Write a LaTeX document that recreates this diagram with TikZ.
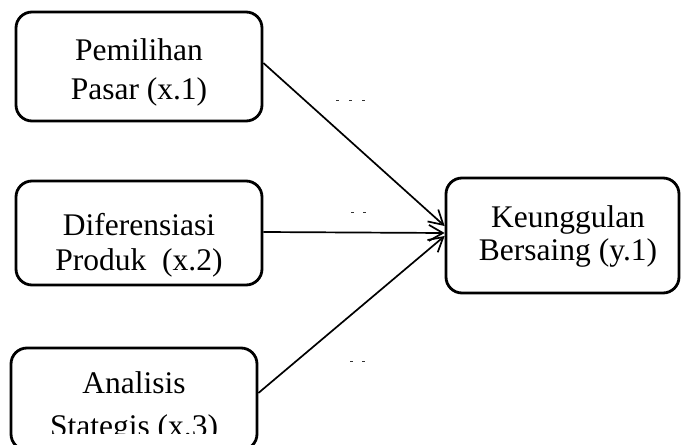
\documentclass[tikz,border=0pt]{standalone}
\usepackage{fontspec}
\setmainfont{Liberation Serif}
\usetikzlibrary{arrows.meta}
\begin{document}
\begin{tikzpicture}[x=1pt,y=-1pt,
  box/.style={draw, line width=2.8pt, rounded corners=16pt, inner sep=0pt},
  txt/.style={font=\fontsize{31.5}{37}\selectfont, inner sep=0pt, anchor=base},
  conn/.style={line width=1.7pt, -{Straight Barb[length=14pt,width=16pt,line width=1.7pt]}},
  tick/.style={line width=1pt, black!80}]
\useasboundingbox (0,0) rectangle (681,445);
\begin{scope}
\clip (0,0) rectangle (681,445);
\node[box, minimum width=246pt, minimum height=109pt] (b1) at (139,66.5) {};
\node[box, minimum width=246pt, minimum height=104pt] (b2) at (139,233) {};
\node[box, minimum width=246pt, minimum height=102pt] (b3) at (134,399) {};
\node[box, minimum width=233pt, minimum height=115pt] (b4) at (562.5,235.5) {};

\node[txt] (t1a) at (139,60) {Pemilihan};
\node[txt] (t1b) at (139,99) {Pasar (x.1)};
\node[txt] (t2a) at (139,235) {Diferensiasi};
\node[txt] (t2b) at (139,270) {Produk\ \ (x.2)};
\node[txt] (t3a) at (134,393) {Analisis};
\node[txt] (t4a) at (568,227) {Keunggulan};
\node[txt] (t4b) at (568,260) {Bersaing (y.1)};
\end{scope}
\begin{scope}
\clip (0,0) rectangle (681,433);
\node[txt] (t3b) at (134,436) {Stategis (x.3)};
\end{scope}

\draw[conn] ([yshift=3.5pt]b1.east) -- ([yshift=9.5pt]b4.west);
\draw[conn] ([yshift=1pt]b2.east) -- ([yshift=2.5pt]b4.west);
\draw[conn] ([yshift=6pt]b3.east) -- ([yshift=-0.5pt]b4.west);

\draw[tick] (336,100) -- (338.5,100);
\draw[tick] (349,100) -- (351.5,100);
\draw[tick] (362,100) -- (364.5,100);
\draw[tick] (351,212) -- (353.5,212);
\draw[tick] (363,212) -- (365.5,212);
\draw[tick] (350,361) -- (352.5,361);
\draw[tick] (362,361) -- (364.5,361);
\end{tikzpicture}
\end{document}
